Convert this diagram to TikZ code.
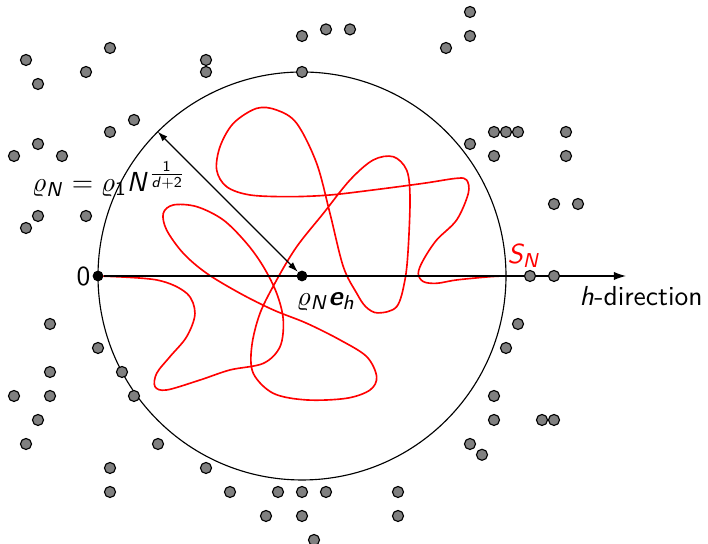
\documentclass[11pt,tikz,border=0pt]{standalone}
\usetikzlibrary{arrows.meta, positioning, calc}
\renewcommand{\familydefault}{\sfdefault}
% sans digits and letters in math, greek stays roman
\DeclareSymbolFont{operators}{OT1}{cmss}{m}{n}
\DeclareSymbolFont{sfletters}{OT1}{cmss}{m}{sl}
\DeclareMathSymbol{N}{\mathalpha}{sfletters}{`N}
\DeclareMathSymbol{S}{\mathalpha}{sfletters}{`S}
\DeclareMathSymbol{d}{\mathalpha}{sfletters}{`d}
\DeclareMathSymbol{h}{\mathalpha}{sfletters}{`h}
\newcommand{\vecE}{\mbox{\bfseries\itshape e}}
\definecolor{dotgray}{RGB}{128,128,128}
\tikzset{
  gdot/.style={circle, draw=black, line width=0.45pt, fill=dotgray,
    inner sep=0pt, minimum size=4.4pt},
  bdot/.style={circle, fill=black, inner sep=0pt, minimum size=4.3pt},
  harr/.style={-{Latex[length=4.8pt,width=3.3pt]}, line width=0.5pt},
  radarr/.style={{Latex[length=4pt,width=2.7pt]}-{Latex[length=4pt,width=2.7pt]},
    line width=0.5pt},
  walk/.style={red, line width=0.65pt},
  lbl/.style={inner sep=0pt}
}

\begin{document}
\begin{tikzpicture}[x=4.78pt, y=4.78pt]
  \useasboundingbox (-8.1667,-22.3333) rectangle (50.8333,23);

  \draw[line width=0.45pt] (17,0) circle[radius=17];

  %% the path S_N
  \draw[walk] plot[smooth, tension=0.55] coordinates {
    (0,0) (4.89,-0.33) (7.39,-1.44) (8.08,-3.11) (7.39,-5.06) (6,-6.72)
    (4.89,-8.11) (4.75,-9.22) (5.72,-9.5) (8.5,-8.67) (11,-7.83)
    (13.78,-7.28) (15.17,-5.89) (15.44,-3.67) (14.89,-1.44) (13.78,0.78)
    (12.39,2.72) (10.44,4.67) (8.22,5.78) (6.28,5.92) (5.44,5.22)
    (5.72,3.83) (7.11,1.89) (9.06,0.22) (11.83,-1.44) (14.61,-2.83)
    (17.39,-3.94) (20.17,-5.33) (22.39,-6.72) (23.22,-8.39) (22.67,-9.5)
    (20.72,-10.19) (17.39,-10.33) (14.61,-9.78) (12.94,-8.11) (12.81,-5.89)
    (13.5,-3.11) (14.89,-0.33) (16.56,2.44) (18.78,5.22) (21,8)
    (22.94,9.67) (24.61,9.94) (25.72,8.83) (26,6.61) (25.86,2.44)
    (25.58,-0.33) (24.89,-2.56) (23.33,-3.08) (22.33,-2.58) (21.56,-1.44)
    (20.44,0.78) (19.33,5.22) (18.22,9.39) (16.56,12.72) (14.89,13.83)
    (13.22,13.97) (11.28,12.72) (10.17,10.78) (9.89,8.83) (10.72,7.44)
    (12.67,6.75) (16,6.61) (19.33,6.75) (22.94,7.17) (27.11,7.72)
    (29.89,8.14) (30.72,8) (30.86,6.89) (29.89,4.67) (28.22,3)
    (27.11,1.33) (26.69,0.22) (27.11,-0.47) (28.22,-0.61) (29.89,-0.33)
    (32.67,-0.06) (33.9,0)};

  \node[bdot] (o) at (0,0) {};
  \node[bdot] (c) at (17,0) {};
  \coordinate (tip) at (44,0);
  \coordinate (rim) at ($(c)+(135:17)$);

  \draw[harr] (o) -- (tip);
  \draw[radarr] (rim) -- (c);

  %% points of the cloud
  \foreach \x/\y [count=\i] in {
    -6/18, 1/19, -1/17, -5/16, 9/18, 9/17, 3/13, 1/12, -5/11, -7/10,
    -3/10, -5/5, -6/4, -1/5, 17/20, 19/20.55, 21/20.55, 17/17, 31/22,
    31/20, 29/19, 31/11, 33/12, 34/12, 35/12, 39/12, 33/10, 39/10,
    38/6, 40/6, 36/0, 38/0, -4/-4, 0/-6, -4/-8, 2/-8, -7/-10, -4/-10,
    3/-10, -5/-12, -6/-14, 5/-14, 1/-16, 9/-16, 1/-18, 11/-18, 15/-18,
    17/-18, 19/-18, 25/-18, 14/-20, 17/-20, 25/-20, 18/-22, 31/-14,
    32/-14.9, 35/-4, 34/-6, 33/-10, 33/-12, 37/-12, 38/-12}
    \node[gdot] (p\i) at (\x,\y) {};

  %% labels
  \node[lbl, left=0.5pt of o] (zero) {0};
  \node[lbl, anchor=base west] (ctr) at (16.5,-2.42) {$\varrho_N\vecE_h$};
  \node[lbl, anchor=base west, text=red] (sn) at (34.1,1.08) {$S_N$};
  \node[lbl, anchor=base west] (hdir) at (40.1,-2.5) {$h$-direction};
  \node[lbl, anchor=base] (rho) at (0.92,7.03)
       {$\varrho_N=\varrho_1N^{\frac{1}{d+2}}$};
\end{tikzpicture}
\end{document}
